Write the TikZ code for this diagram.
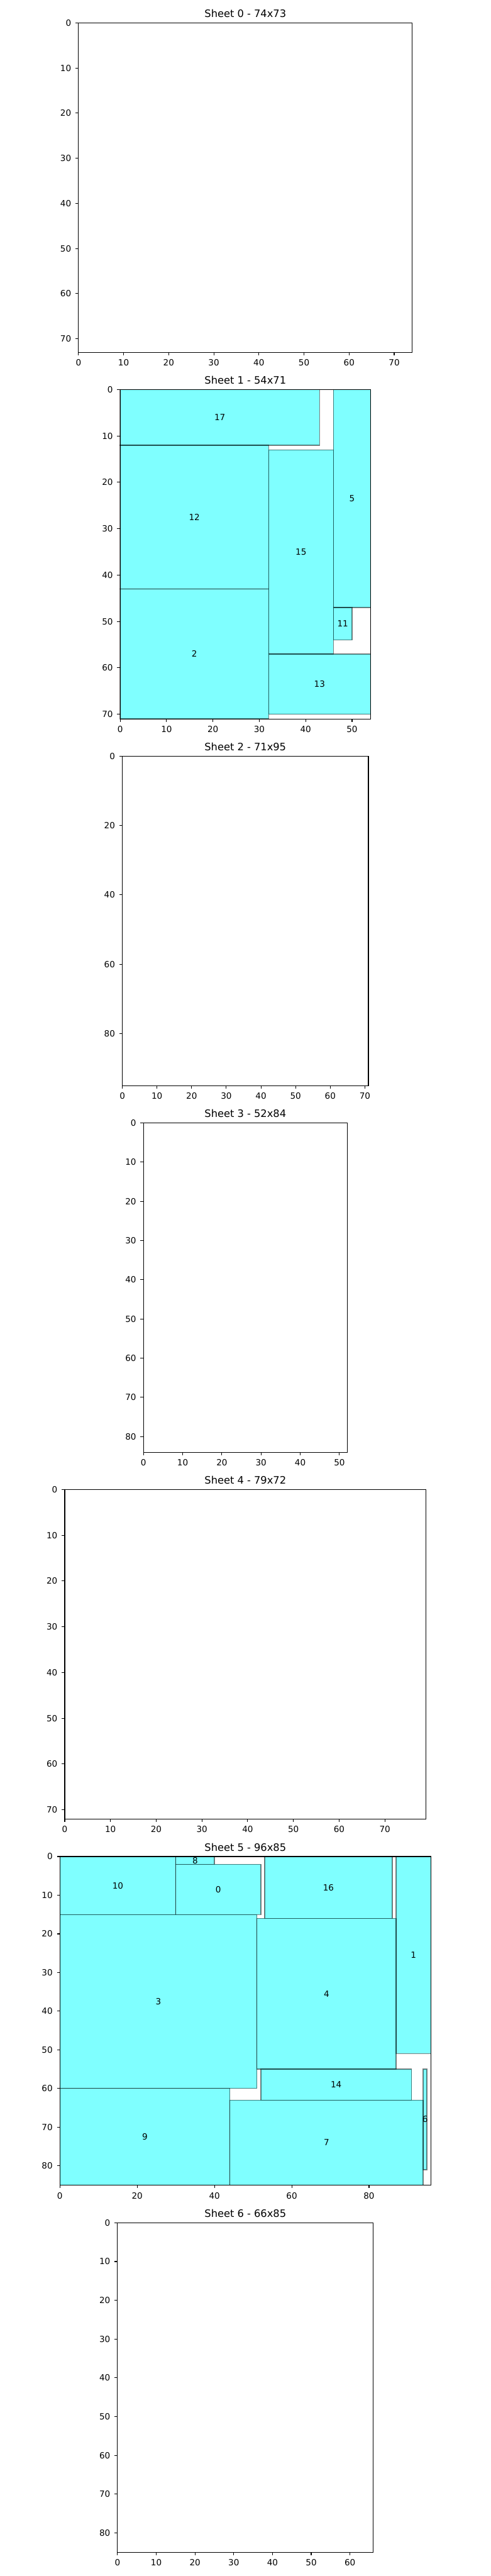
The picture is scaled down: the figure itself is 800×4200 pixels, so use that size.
\documentclass[tikz,border=0pt]{standalone}
\usepackage{fontspec}
\setmainfont{DejaVu Sans}
\definecolor{aqua}{RGB}{0,255,255}
\definecolor{ink}{RGB}{0,0,0}
\tikzset{
  piece/.style={fill=aqua, fill opacity=0.5, draw=ink, draw opacity=0.5, line width=1pt},
  axframe/.style={draw=ink, line width=0.8pt},
  ticklines/.style={draw=ink, line width=0.8pt},
  ticklab/.style={font=\fontsize{10}{12}\selectfont, inner sep=0pt, text=ink},
  ttl/.style={font=\fontsize{12}{14}\selectfont, inner sep=0pt, anchor=base, text=ink},
  plab/.style={font=\fontsize{10}{12}\selectfont, inner sep=0pt, text=ink}
}
\newcommand\setsheet[3]{\def\sL{#1}\def\sT{#2}\def\sS{#3}}
\newcommand\piece[5]{%
  \draw[piece] ({\sL+\sS*(#1)},{\sT+\sS*(#2)}) rectangle ({\sL+\sS*(#3)},{\sT+\sS*(#4)});
  \node[plab] (p#5) at ({\sL+\sS*((#1)+(#3))/2},{\sT+\sS*((#2)+(#4))/2}) {#5};}
\newcommand\sheetaxes[5]{%
  \draw[axframe] ({\sL},{\sT}) rectangle ({\sL+\sS*(#2)},{\sT+\sS*(#3)});
  \foreach \v in {#4} {
    \draw[ticklines] ({\sL+\sS*\v},{\sT+\sS*(#3)}) -- ++(0pt,-3.5pt);
    \node[ticklab, anchor=north, yshift=-8.4pt] (xl#1-\v) at ({\sL+\sS*\v},{\sT+\sS*(#3)}) {\v};
  }
  \foreach \v in {#5} {
    \draw[ticklines] ({\sL},{\sT+\sS*\v}) -- ++(-3.5pt,0pt);
    \node[ticklab, anchor=east, xshift=-8.4pt] (yl#1-\v) at ({\sL},{\sT+\sS*\v}) {\v};
  }
  \node[ttl, yshift=6.3pt] (title#1) at ({\sL+\sS*(#2)/2},{\sT}) {Sheet #1 - #2x#3};
}
\begin{document}
\begin{tikzpicture}[x=0.72pt, y=-0.72pt]
\useasboundingbox (0,0) rectangle (800,4200);
\fill[white] (0,0) rectangle (800,4200);

% Sheet 0
\setsheet{128.0}{37.3}{7.3562}
\sheetaxes{0}{74}{73}{0,10,...,70}{0,10,...,70}

% Sheet 1
\setsheet{196.0}{635.1}{7.5634}
\piece{0}{0}{43}{12}{17}
\piece{0}{12}{32}{43}{12}
\piece{0}{43}{32}{71}{2}
\piece{32}{13}{46}{57}{15}
\piece{46}{0}{54}{47}{5}
\piece{46}{47}{50}{54}{11}
\piece{32}{57}{54}{70}{13}
\sheetaxes{1}{54}{71}{0,10,...,50}{0,10,...,70}

% Sheet 2
\setsheet{199.5}{1232.9}{5.6526}
\sheetaxes{2}{71}{95}{0,10,...,70}{0,20,...,80}

% Sheet 3
\setsheet{234.0}{1830.7}{6.3929}
\sheetaxes{3}{52}{84}{0,10,...,50}{0,10,...,80}

% Sheet 4
\setsheet{105.6}{2428.5}{7.4583}
\sheetaxes{4}{79}{72}{0,10,...,70}{0,10,...,70}

% Sheet 5
\setsheet{97.7}{3026.95}{6.3021}
\piece{0}{0}{30}{15}{10}
\piece{30}{0}{40}{2}{8}
\piece{30}{2}{52}{15}{0}
\piece{53}{0}{86}{16}{16}
\piece{87}{0}{96}{51}{1}
\piece{0}{15}{51}{60}{3}
\piece{51}{16}{87}{55}{4}
\piece{52}{55}{91}{63}{14}
\piece{94}{55}{95}{81}{6}
\piece{0}{60}{44}{85}{9}
\piece{44}{63}{94}{85}{7}
\sheetaxes{5}{96}{85}{0,20,...,80}{0,10,...,80}

% Sheet 6
\setsheet{191.7}{3624.1}{6.3176}
\sheetaxes{6}{66}{85}{0,10,...,60}{0,10,...,80}
\end{tikzpicture}
\end{document}
